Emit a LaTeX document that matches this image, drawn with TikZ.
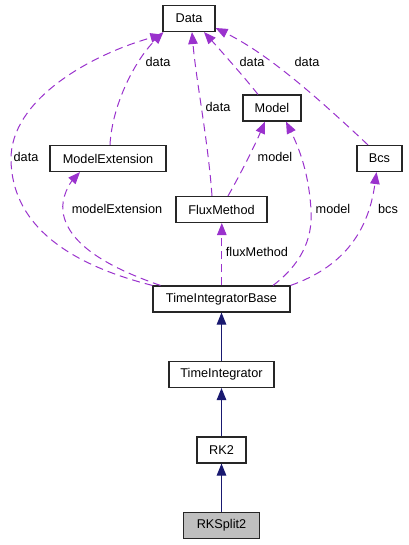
\documentclass[tikz,border=0pt]{standalone}
\usepackage{fontspec}
\setmainfont{Liberation Sans}
\usetikzlibrary{arrows.meta}
\definecolor{usecol}{HTML}{9A32CD}
\definecolor{inhcol}{HTML}{191970}
\begin{document}
\begin{tikzpicture}[x=1pt,y=-1pt,
  cls/.style={draw=black!85, line width=1.1pt, minimum height=26pt, inner sep=0pt, font=\fontsize{12.7}{15}\selectfont, fill=white},
  usearrow/.style={draw=usecol, line width=1pt, dash pattern=on 8pt off 5pt, -{Triangle[length=12pt,width=9.5pt]}},
  inharrow/.style={draw=inhcol, line width=1.1pt, -{Triangle[length=12pt,width=9.5pt]}},
  lbl/.style={font=\fontsize{12.7}{15}\selectfont, inner sep=0pt}]
\useasboundingbox (0,0) rectangle (408,545);
% nodes
\node[cls, minimum width=52pt] (data) at (189,18.5) {Data};
\node[cls, minimum width=58pt] (model) at (272,108) {Model};
\node[cls, minimum width=116pt] (me) at (108,158.5) {ModelExtension};
\node[cls, minimum width=45pt] (bcs) at (379.5,158.5) {Bcs};
\node[cls, minimum width=91pt] (flux) at (221.5,209.5) {FluxMethod};
\node[cls, minimum width=137pt] (tib) at (221.5,299) {TimeIntegratorBase};
\node[cls, minimum width=105pt] (ti) at (221.5,374.5) {TimeIntegrator};
\node[cls, minimum width=49pt] (rk2) at (221.5,450) {RK2};
\node[cls, minimum width=76pt, fill=gray!50] (rks) at (221.5,525.5) {RKSplit2};
% usage edges
\draw[usearrow] ([xshift=2pt]me.north) .. controls (112,105) and (135,60) .. ([xshift=1pt]data.south west);
\draw[usearrow] (tib.north west) .. controls (60,262) and (12,220) .. (11,160) .. controls (10,100) and (90,55) .. ([yshift=-2.5pt]data.south west);
\draw[usearrow] ([xshift=8pt]tib.north west) .. controls (110,268) and (68,245) .. (63,212) .. controls (61,197) and (70,183) .. ([xshift=-28pt]me.south);
\draw[usearrow] ([xshift=-9.5pt]flux.north) .. controls (208,140) and (196,80) .. ([xshift=3pt]data.south);
\draw[usearrow] ([xshift=-14pt]model.north) .. controls (245,78) and (222,52) .. ([xshift=15pt]data.south);
\draw[usearrow] ([xshift=-11.5pt]bcs.north) .. controls (320,100) and (270,55) .. ([yshift=-9.5pt]data.east);
\draw[usearrow] ([xshift=6.5pt]flux.north) .. controls (240,175) and (255,145) .. ([xshift=-7pt]model.south);
\draw[usearrow] ([xshift=51.5pt]tib.north) .. controls (300,265) and (313,240) .. (311,210) .. controls (309,175) and (300,150) .. ([xshift=14pt]model.south);
\draw[usearrow] (tib.north east) .. controls (340,268) and (368,235) .. ([xshift=-3pt]bcs.south);
\draw[usearrow] ([xshift=0.3pt]tib.north) -- ([xshift=0.3pt]flux.south);
% inheritance edges
\draw[inharrow] (ti.north) -- (tib.south);
\draw[inharrow] (rk2.north) -- (ti.south);
\draw[inharrow] (rks.north) -- (rk2.south);
% labels
\node[lbl] (l1) at (158,62) {data};
\node[lbl] (l2) at (252,62) {data};
\node[lbl] (l3) at (307,62) {data};
\node[lbl] (l4) at (218,107) {data};
\node[lbl] (l5) at (26,157) {data};
\node[lbl] (l6) at (275,157) {model};
\node[lbl] (l7) at (117,209) {modelExtension};
\node[lbl] (l8) at (333,209) {model};
\node[lbl] (l9) at (388,209) {bcs};
\node[lbl] (l10) at (257,252) {fluxMethod};
\end{tikzpicture}
\end{document}
